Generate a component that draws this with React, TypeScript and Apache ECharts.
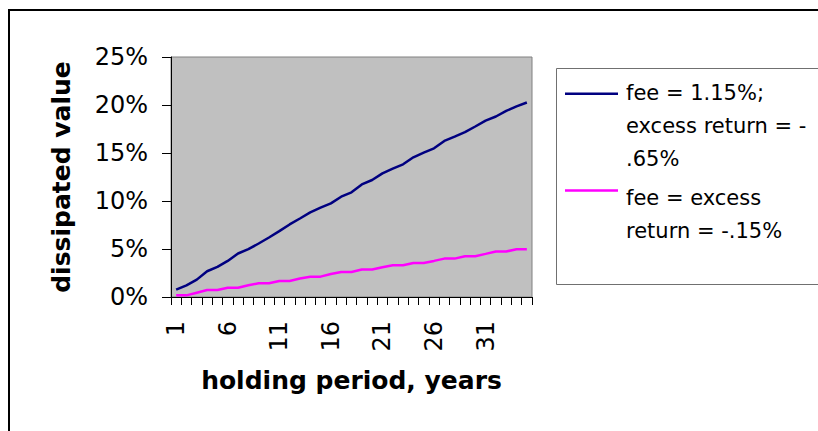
import React, { useEffect, useRef } from "react";
import * as echarts from "echarts";

const years = [
  "1", "2", "3", "4", "5", "6", "7", "8", "9", "10",
  "11", "12", "13", "14", "15", "16", "17", "18", "19", "20",
  "21", "22", "23", "24", "25", "26", "27", "28", "29", "30",
  "31", "32", "33", "34", "35",
];

// dissipated value, percent
const feeHighSeries = [
  0.77, 1.22, 1.81, 2.68, 3.13, 3.76, 4.53, 4.98, 5.57, 6.2,
  6.86, 7.56, 8.18, 8.81, 9.3, 9.75, 10.45, 10.9, 11.73, 12.19,
  12.88, 13.37, 13.82, 14.55, 15.04, 15.49, 16.26, 16.71, 17.17, 17.76,
  18.38, 18.8, 19.39, 19.85, 20.26,
];

const feeEqualSeries = [
  0.17, 0.17, 0.45, 0.73, 0.73, 0.97, 0.97, 1.22, 1.43, 1.43,
  1.67, 1.67, 1.92, 2.12, 2.12, 2.4, 2.61, 2.61, 2.86, 2.86,
  3.1, 3.31, 3.31, 3.55, 3.55, 3.76, 4.0, 4.0, 4.25, 4.25,
  4.49, 4.74, 4.74, 4.98, 4.98,
];

const seriesNames = [
  "fee = 1.15%;\nexcess return = -\n.65%",
  "fee = excess\nreturn = -.15%",
];
const seriesColors = ["#000080", "#FF00FF"];

const yMin = 0;
const yMax = 25;
const yStep = 5;

const xTitle = "holding period, years";
const yTitle = "dissipated value";

const FONT = "DejaVu Sans";

export default function App() {
  const ref = useRef<HTMLDivElement>(null);

  useEffect(() => {
    if (!ref.current) return;
    const chart = echarts.init(ref.current, undefined, { renderer: "svg" });
    chart.setOption({
      animation: false,
      backgroundColor: "#ffffff",
      textStyle: { fontFamily: FONT },
      graphic: [
        {
          type: "polyline",
          silent: true,
          z: 1,
          shape: { points: [[9, 431], [9, 10], [818, 10]] },
          style: { fill: "none", stroke: "#000000", lineWidth: 2 },
        },
        {
          type: "polyline",
          silent: true,
          z: 1,
          shape: { points: [[818, 68.5], [556.5, 68.5], [556.5, 284.5], [818, 284.5]] },
          style: { fill: "none", stroke: "#707070", lineWidth: 1 },
        },
      ],
      grid: {
        left: 171,
        top: 57,
        width: 361,
        height: 240,
        show: true,
        backgroundColor: "#C0C0C0",
        borderColor: "#808080",
        borderWidth: 1,
      },
      legend: {
        orient: "vertical",
        left: 556,
        top: 68,
        z: 10,
        padding: [8, 0, 0, 9],
        itemGap: 6,
        itemWidth: 56,
        itemHeight: 66,
        borderWidth: 0,
        selectedMode: false,
        itemStyle: { borderWidth: 0 },
        textStyle: { fontFamily: FONT, fontSize: 21, lineHeight: 33, color: "#000000" },
        data: [
          {
            name: seriesNames[0],
            icon: "path://M0,-1.25L53,-1.25L53,1.25L0,1.25Z M56,64.75L55,64.75Z",
          },
          {
            name: seriesNames[1],
            icon: "path://M0,8.25L53,8.25L53,10.75L0,10.75Z M0,0L1,0Z M56,66L55,66Z",
          },
        ],
      },
      xAxis: {
        type: "category",
        data: years,
        boundaryGap: true,
        name: xTitle,
        nameLocation: "middle",
        nameGap: 71,
        nameTextStyle: { fontFamily: FONT, fontWeight: "bold", fontSize: 25, color: "#000000" },
        axisLine: { show: true, lineStyle: { color: "#000000", width: 1 } },
        axisTick: { show: true, interval: 0, length: 8, lineStyle: { color: "#000000" } },
        axisLabel: { interval: 4, rotate: 90, margin: 24, fontSize: 24, color: "#000000", fontFamily: FONT },
        splitLine: { show: false },
      },
      yAxis: {
        type: "value",
        min: yMin,
        max: yMax,
        interval: yStep,
        name: yTitle,
        nameLocation: "middle",
        nameGap: 97,
        nameTextStyle: { fontFamily: FONT, fontWeight: "bold", fontSize: 25, color: "#000000" },
        axisLine: { show: true, lineStyle: { color: "#000000", width: 1 } },
        axisTick: { show: true, length: 9, lineStyle: { color: "#000000" } },
        axisLabel: { formatter: "{value}%", margin: 23, fontSize: 24, color: "#000000", fontFamily: FONT },
        splitLine: { show: false },
      },
      series: [
        {
          name: seriesNames[0],
          type: "line",
          data: feeHighSeries,
          color: seriesColors[0],
          showSymbol: false,
          lineStyle: { color: seriesColors[0], width: 2.5 },
        },
        {
          name: seriesNames[1],
          type: "line",
          data: feeEqualSeries,
          color: seriesColors[1],
          showSymbol: false,
          lineStyle: { color: seriesColors[1], width: 2.5 },
        },
      ],
    });
    return () => chart.dispose();
  }, []);

  return (
    <div
      ref={ref}
      style={{ position: "fixed", left: 0, top: 0, width: 818, height: 431 }}
    />
  );
}
